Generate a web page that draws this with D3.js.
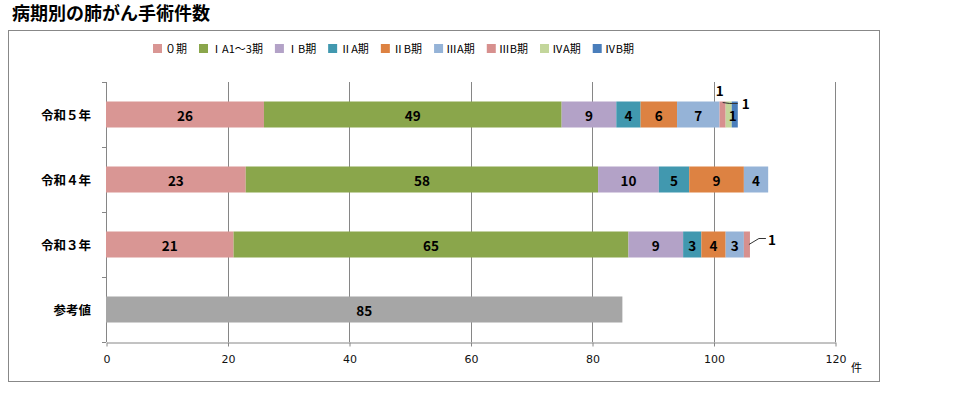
<!DOCTYPE html>
<html>
<head>
<meta charset="utf-8">
<script src="https://cdn.jsdelivr.net/npm/d3@7"></script>
<style>
  body { margin: 0; background: #fff; }
  text { font-family: "Noto Sans CJK JP", "DejaVu Sans", sans-serif; }
</style>
</head>
<body>
<div id="chart"></div>
<script>
const categories = ["令和５年", "令和４年", "令和３年", "参考値"];
const stages = ["０期", "ⅠA1～3期", "ⅠB期", "ⅡA期", "ⅡB期", "ⅢA期", "ⅢB期", "ⅣA期", "ⅣB期"];
const stageColors = ["#d99694", "#8aa64b", "#b3a2c7", "#4198af", "#dd8242", "#95b3d7", "#d7908e", "#c3d69b", "#4a7ebb"];
const r5 = [26, 49, 9, 4, 6, 7, 1, 1, 1];
const r4 = [23, 58, 10, 5, 9, 4, 0, 0, 0];
const r3 = [21, 65, 9, 3, 4, 3, 1, 0, 0];
const reference = 85;
const xTicks = [0, 20, 40, 60, 80, 100, 120];

const width = 953, height = 393;
const svg = d3.select("#chart").append("svg")
    .attr("width", width)
    .attr("height", height);

// title
svg.append("text")
    .attr("x", 12)
    .attr("y", 20)
    .style("font-size", "18px")
    .style("font-weight", "bold")
    .text("病期別の肺がん手術件数");

// outer frame
svg.append("rect")
    .attr("x", 8.5).attr("y", 30.5)
    .attr("width", 871).attr("height", 351)
    .style("fill", "none")
    .style("stroke", "#888")
    .style("stroke-width", 1);

const x = d3.scaleLinear().domain([0, 120]).range([106, 835]);
const y = d3.scaleBand().domain(categories).range([82, 342]).paddingInner(0.6).paddingOuter(0.3);

// gridlines
svg.append("g").selectAll("line")
    .data(xTicks.slice(1))
    .enter().append("line")
    .attr("x1", d => Math.round(x(d)) + 0.5)
    .attr("x2", d => Math.round(x(d)) + 0.5)
    .attr("y1", 82).attr("y2", 342)
    .style("stroke", "#868686");

// x axis
const xAxis = svg.append("g")
    .attr("transform", "translate(0.5,342.5)")
    .call(d3.axisBottom(x).tickValues(xTicks).tickSize(4).tickSizeOuter(0));
xAxis.select(".domain").style("stroke", "#868686");
xAxis.selectAll(".tick line").style("stroke", "#868686");
xAxis.selectAll("text")
    .attr("y", 13)
    .style("font-size", "11px")
    .style("font-family", "Verdana, 'DejaVu Sans', sans-serif")
    .style("fill", "#111");

svg.append("text")
    .attr("x", 851).attr("y", 372)
    .style("font-size", "11px")
    .text("件");

// y axis
const yBorders = d3.range(categories.length + 1).map(i => 82 + i * (260 / categories.length));
svg.append("line")
    .attr("x1", 106.5).attr("x2", 106.5)
    .attr("y1", 82).attr("y2", 342)
    .style("stroke", "#868686");
svg.append("g").selectAll("line")
    .data(yBorders)
    .enter().append("line")
    .attr("x1", 102).attr("x2", 106)
    .attr("y1", d => Math.round(d) + 0.5)
    .attr("y2", d => Math.round(d) + 0.5)
    .style("stroke", "#868686");

svg.append("g").selectAll("text")
    .data(categories)
    .enter().append("text")
    .attr("x", 91)
    .attr("y", d => y(d) + y.bandwidth() / 2)
    .attr("text-anchor", "end")
    .attr("dominant-baseline", "central")
    .style("font-size", "12.5px")
    .style("font-weight", "bold")
    .text(d => d);

// stacked bars
const rows = [r5, r4, r3];
// label nudges for the tiny segments [dx, dy]
const labelOffsets = {
    "0-6": [-3, -25],
    "0-7": [17, -12],
    "0-8": [-2, 0],
    "2-6": [25, -6]
};
// leader lines for labels pushed out of the bar
const leaders = {
    "0-7": [[-6, -12], [1, -11], [9, -11]],
    "2-6": [[2, 0], [12, -6], [19, -6]]
};
rows.forEach((vals, ri) => {
    const cat = categories[ri];
    let acc = 0;
    vals.forEach((v, si) => {
        const x0 = acc;
        acc += v;
        if (v === 0) return;
        svg.append("rect")
            .attr("x", x(x0))
            .attr("y", y(cat))
            .attr("width", x(acc) - x(x0))
            .attr("height", y.bandwidth())
            .style("fill", stageColors[si]);
    });
});
rows.forEach((vals, ri) => {
    const cat = categories[ri];
    let acc = 0;
    vals.forEach((v, si) => {
        const x0 = acc;
        acc += v;
        if (v === 0) return;
        const key = ri + "-" + si;
        const cx = (x(x0) + x(acc)) / 2;
        const cy = y(cat) + y.bandwidth() / 2;
        const off = labelOffsets[key] || [0, 0];
        if (leaders[key]) {
            svg.append("polyline")
                .attr("points", leaders[key].map(p => [cx + p[0], cy + p[1]]).join(" "))
                .style("fill", "none")
                .style("stroke", "#333")
                .style("stroke-width", 1);
        }
        svg.append("text")
            .attr("x", cx + off[0])
            .attr("y", cy + off[1])
            .attr("text-anchor", "middle")
            .attr("dominant-baseline", "central")
            .style("font-size", "13.5px")
            .style("font-weight", "bold")
            .text(v);
    });
});

// reference bar
svg.append("rect")
    .attr("x", x(0))
    .attr("y", y("参考値"))
    .attr("width", x(reference) - x(0))
    .attr("height", y.bandwidth())
    .style("fill", "#a6a6a6");
svg.append("text")
    .attr("x", (x(0) + x(reference)) / 2)
    .attr("y", y("参考値") + y.bandwidth() / 2)
    .attr("text-anchor", "middle")
    .attr("dominant-baseline", "central")
    .style("font-size", "13.5px")
    .style("font-weight", "bold")
    .text(reference);

// legend
const legend = svg.append("g").attr("transform", "translate(153,48)");
let lx = 0;
stages.forEach((s, i) => {
    const g = legend.append("g").attr("transform", `translate(${lx},0)`);
    g.append("rect")
        .attr("x", 0).attr("y", -4)
        .attr("width", 9).attr("height", 9)
        .style("fill", stageColors[i]);
    const t = g.append("text")
        .attr("x", 12)
        .attr("y", 0)
        .attr("dominant-baseline", "central")
        .style("font-size", "11px")
        .text(s);
    lx += 12 + t.node().getComputedTextLength() + 12;
});
</script>
</body>
</html>
